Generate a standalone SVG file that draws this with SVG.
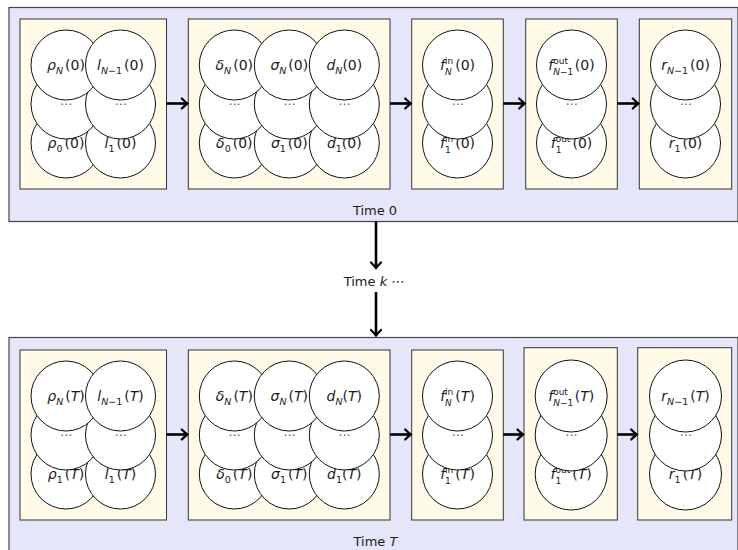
<svg xmlns="http://www.w3.org/2000/svg" width="738" height="550" viewBox="0 0 738 550">
<style>
.outer{fill:#e6e6fa;stroke:#444;stroke-width:1.2}
.inner{fill:#fffbe8;stroke:#333;stroke-width:1}
.c{fill:#fff;stroke:#111;stroke-width:1}
.lbl{font-family:"DejaVu Sans",sans-serif;font-size:14px;fill:#1a1a1a;text-anchor:middle}
.i{font-style:italic}
.s{font-size:9.5px}
.t{font-size:9px}
.dots{font-family:"DejaVu Sans",sans-serif;font-size:12px;fill:#555;text-anchor:middle}
.arr{stroke:#000;stroke-width:2.6;fill:none}
.cap{font-family:"DejaVu Sans",sans-serif;font-size:13px;fill:#1a1a1a;text-anchor:middle}
</style>
<defs>
<marker id="ah" markerUnits="userSpaceOnUse" markerWidth="14" markerHeight="14" viewBox="-8 -7 10 14" refX="0" refY="0" orient="auto">
<path d="M-5.5,-5 Q-2,-1.5 0,0 Q-2,1.5 -5.5,5" fill="none" stroke="#000" stroke-width="2.2" stroke-linecap="round"/>
</marker>
</defs>

<!-- ===== Time 0 ===== -->
<g id="time0">
<rect class="outer" x="9" y="7.5" width="729" height="214"/>
<text class="cap" x="375" y="214.5">Time 0</text>
</g>

<g id="box-rl-0">
<rect class="inner" x="20" y="19" width="146.5" height="170"/>
<g id="rho0-0"><circle class="c" cx="66" cy="143" r="35"/><text class="lbl" x="66" y="148"><tspan class="i">ρ</tspan><tspan class="s" dy="3.5">0</tspan><tspan dy="-3.5" dx="2">(0)</tspan></text></g>
<g id="l1-0"><circle class="c" cx="120.5" cy="143" r="35"/><text class="lbl" x="120.5" y="148"><tspan class="i">l</tspan><tspan class="s" dy="3.5">1</tspan><tspan dy="-3.5" dx="2">(0)</tspan></text></g>
<g id="rhok-0"><circle class="c" cx="66" cy="104" r="35"/><text class="dots" x="66" y="108">⋯</text></g>
<g id="lk-0"><circle class="c" cx="120.5" cy="104" r="35"/><text class="dots" x="120.5" y="108">⋯</text></g>
<g id="rhoN-0"><circle class="c" cx="66" cy="65" r="35"/><text class="lbl" x="66" y="70"><tspan class="i">ρ</tspan><tspan class="s i" dy="3.5">N</tspan><tspan dy="-3.5" dx="2">(0)</tspan></text></g>
<g id="lN-0"><circle class="c" cx="120.5" cy="65" r="35"/><text class="lbl" x="120.5" y="70"><tspan class="i">l</tspan><tspan class="s" dy="3.5"><tspan class="i">N</tspan>−1</tspan><tspan dy="-3.5" dx="2">(0)</tspan></text></g>
</g>

<g id="box-dsd-0">
<rect class="inner" x="188.3" y="19" width="201.7" height="170"/>
<g id="delta0-0"><circle class="c" cx="234.3" cy="143" r="35"/><text class="lbl" x="234.3" y="148"><tspan class="i">δ</tspan><tspan class="s" dy="3.5">0</tspan><tspan dy="-3.5" dx="2">(0)</tspan></text></g>
<g id="sigma1-0"><circle class="c" cx="289.3" cy="143" r="35"/><text class="lbl" x="289.3" y="148"><tspan class="i">σ</tspan><tspan class="s" dy="3.5">1</tspan><tspan dy="-3.5" dx="2">(0)</tspan></text></g>
<g id="d1-0"><circle class="c" cx="344.3" cy="143" r="35"/><text class="lbl" x="344.3" y="148"><tspan class="i">d</tspan><tspan class="s" dy="3.5">1</tspan><tspan dy="-3.5">(0)</tspan></text></g>
<g id="deltak-0"><circle class="c" cx="234.3" cy="104" r="35"/><text class="dots" x="234.3" y="108">⋯</text></g>
<g id="sigmak-0"><circle class="c" cx="289.3" cy="104" r="35"/><text class="dots" x="289.3" y="108">⋯</text></g>
<g id="dk-0"><circle class="c" cx="344.3" cy="104" r="35"/><text class="dots" x="344.3" y="108">⋯</text></g>
<g id="deltaN-0"><circle class="c" cx="234.3" cy="65" r="35"/><text class="lbl" x="234.3" y="70"><tspan class="i">δ</tspan><tspan class="s i" dy="3.5">N</tspan><tspan dy="-3.5" dx="2">(0)</tspan></text></g>
<g id="sigmaN-0"><circle class="c" cx="289.3" cy="65" r="35"/><text class="lbl" x="289.3" y="70"><tspan class="i">σ</tspan><tspan class="s i" dy="3.5">N</tspan><tspan dy="-3.5" dx="2">(0)</tspan></text></g>
<g id="dN-0"><circle class="c" cx="344.3" cy="65" r="35"/><text class="lbl" x="344.3" y="70"><tspan class="i">d</tspan><tspan class="s i" dy="3.5">N</tspan><tspan dy="-3.5">(0)</tspan></text></g>
</g>

<g id="box-fin-0">
<rect class="inner" x="411.7" y="19" width="91.6" height="170"/>
<g id="fin1-0"><circle class="c" cx="457.5" cy="143" r="35"/><text class="lbl" x="457.5" y="148"><tspan class="i">f</tspan><tspan class="t" dy="-6">in</tspan><tspan class="t" dx="-8.2" dy="10.5">1</tspan><tspan dy="-4.5" dx="4.5">(0)</tspan></text></g>
<g id="fink-0"><circle class="c" cx="457.5" cy="104" r="35"/><text class="dots" x="457.5" y="108">⋯</text></g>
<g id="finN-0"><circle class="c" cx="457.5" cy="65" r="35"/><text class="lbl" x="457.5" y="70"><tspan class="i">f</tspan><tspan class="t" dy="-6">in</tspan><tspan class="t i" dx="-8.2" dy="10.5">N</tspan><tspan dy="-4.5" dx="3.5">(0)</tspan></text></g>
</g>

<g id="box-fout-0">
<rect class="inner" x="525.7" y="19" width="91.6" height="170"/>
<g id="fout1-0"><circle class="c" cx="571.5" cy="143" r="35"/><text class="lbl" x="571.5" y="148"><tspan class="i">f</tspan><tspan class="t" dy="-6">out</tspan><tspan class="t" dx="-14.7" dy="10.5">1</tspan><tspan dy="-4.5" dx="11">(0)</tspan></text></g>
<g id="foutk-0"><circle class="c" cx="571.5" cy="104" r="35"/><text class="dots" x="571.5" y="108">⋯</text></g>
<g id="foutN-0"><circle class="c" cx="571.5" cy="65" r="35"/><text class="lbl" x="571.5" y="70"><tspan class="i">f</tspan><tspan class="t" dy="-6">out</tspan><tspan class="t" dx="-14.7" dy="10.5"><tspan class="i">N</tspan>−1</tspan><tspan dy="-4.5" dx="1.5">(0)</tspan></text></g>
</g>

<g id="box-r-0">
<rect class="inner" x="639.3" y="19" width="92.4" height="170"/>
<g id="r1-0"><circle class="c" cx="685.5" cy="143" r="35"/><text class="lbl" x="685.5" y="148"><tspan class="i">r</tspan><tspan class="s" dy="3.5">1</tspan><tspan dy="-3.5" dx="2">(0)</tspan></text></g>
<g id="rk-0"><circle class="c" cx="685.5" cy="104" r="35"/><text class="dots" x="685.5" y="108">⋯</text></g>
<g id="rN-0"><circle class="c" cx="685.5" cy="65" r="35"/><text class="lbl" x="685.5" y="70"><tspan class="i">r</tspan><tspan class="s" dy="3.5"><tspan class="i">N</tspan>−1</tspan><tspan dy="-3.5" dx="2">(0)</tspan></text></g>
</g>

<!-- ===== Time k ===== -->
<g id="timek">
<text class="cap" x="374" y="285.5">Time <tspan class="i">k</tspan> ⋯</text>
</g>

<!-- ===== Time T ===== -->
<g id="timeT">
<rect class="outer" x="9" y="337.5" width="729" height="214"/>
<text class="cap" x="375.5" y="545.5">Time <tspan class="i">T</tspan></text>
</g>

<g id="box-rl-T">
<rect class="inner" x="20" y="350" width="146.5" height="170"/>
<g id="rho1-T"><circle class="c" cx="66" cy="474" r="35"/><text class="lbl" x="66" y="479"><tspan class="i">ρ</tspan><tspan class="s" dy="3.5">1</tspan><tspan dy="-3.5" dx="2">(<tspan class="i">T</tspan>)</tspan></text></g>
<g id="l1-T"><circle class="c" cx="120.5" cy="474" r="35"/><text class="lbl" x="120.5" y="479"><tspan class="i">l</tspan><tspan class="s" dy="3.5">1</tspan><tspan dy="-3.5" dx="2">(<tspan class="i">T</tspan>)</tspan></text></g>
<g id="rhok-T"><circle class="c" cx="66" cy="435" r="35"/><text class="dots" x="66" y="439">⋯</text></g>
<g id="lk-T"><circle class="c" cx="120.5" cy="435" r="35"/><text class="dots" x="120.5" y="439">⋯</text></g>
<g id="rhoN-T"><circle class="c" cx="66" cy="396" r="35"/><text class="lbl" x="66" y="401"><tspan class="i">ρ</tspan><tspan class="s i" dy="3.5">N</tspan><tspan dy="-3.5" dx="2">(<tspan class="i">T</tspan>)</tspan></text></g>
<g id="lN-T"><circle class="c" cx="120.5" cy="396" r="35"/><text class="lbl" x="120.5" y="401"><tspan class="i">l</tspan><tspan class="s" dy="3.5"><tspan class="i">N</tspan>−1</tspan><tspan dy="-3.5" dx="2">(<tspan class="i">T</tspan>)</tspan></text></g>
</g>

<g id="box-dsd-T">
<rect class="inner" x="188.3" y="350" width="201.7" height="170"/>
<g id="delta0-T"><circle class="c" cx="234.3" cy="474" r="35"/><text class="lbl" x="234.3" y="479"><tspan class="i">δ</tspan><tspan class="s" dy="3.5">0</tspan><tspan dy="-3.5" dx="2">(<tspan class="i">T</tspan>)</tspan></text></g>
<g id="sigma1-T"><circle class="c" cx="289.3" cy="474" r="35"/><text class="lbl" x="289.3" y="479"><tspan class="i">σ</tspan><tspan class="s" dy="3.5">1</tspan><tspan dy="-3.5" dx="2">(<tspan class="i">T</tspan>)</tspan></text></g>
<g id="d1-T"><circle class="c" cx="344.3" cy="474" r="35"/><text class="lbl" x="344.3" y="479"><tspan class="i">d</tspan><tspan class="s" dy="3.5">1</tspan><tspan dy="-3.5">(<tspan class="i">T</tspan>)</tspan></text></g>
<g id="deltak-T"><circle class="c" cx="234.3" cy="435" r="35"/><text class="dots" x="234.3" y="439">⋯</text></g>
<g id="sigmak-T"><circle class="c" cx="289.3" cy="435" r="35"/><text class="dots" x="289.3" y="439">⋯</text></g>
<g id="dk-T"><circle class="c" cx="344.3" cy="435" r="35"/><text class="dots" x="344.3" y="439">⋯</text></g>
<g id="deltaN-T"><circle class="c" cx="234.3" cy="396" r="35"/><text class="lbl" x="234.3" y="401"><tspan class="i">δ</tspan><tspan class="s i" dy="3.5">N</tspan><tspan dy="-3.5" dx="2">(<tspan class="i">T</tspan>)</tspan></text></g>
<g id="sigmaN-T"><circle class="c" cx="289.3" cy="396" r="35"/><text class="lbl" x="289.3" y="401"><tspan class="i">σ</tspan><tspan class="s i" dy="3.5">N</tspan><tspan dy="-3.5" dx="2">(<tspan class="i">T</tspan>)</tspan></text></g>
<g id="dN-T"><circle class="c" cx="344.3" cy="396" r="35"/><text class="lbl" x="344.3" y="401"><tspan class="i">d</tspan><tspan class="s i" dy="3.5">N</tspan><tspan dy="-3.5">(<tspan class="i">T</tspan>)</tspan></text></g>
</g>

<g id="box-fin-T">
<rect class="inner" x="411.7" y="350" width="91.6" height="170"/>
<g id="fin1-T"><circle class="c" cx="457.5" cy="474" r="35"/><text class="lbl" x="457.5" y="479"><tspan class="i">f</tspan><tspan class="t" dy="-6">in</tspan><tspan class="t" dx="-8.2" dy="10.5">1</tspan><tspan dy="-4.5" dx="4.5">(<tspan class="i">T</tspan>)</tspan></text></g>
<g id="fink-T"><circle class="c" cx="457.5" cy="435" r="35"/><text class="dots" x="457.5" y="439">⋯</text></g>
<g id="finN-T"><circle class="c" cx="457.5" cy="396" r="35"/><text class="lbl" x="457.5" y="401"><tspan class="i">f</tspan><tspan class="t" dy="-6">in</tspan><tspan class="t i" dx="-8.2" dy="10.5">N</tspan><tspan dy="-4.5" dx="3.5">(<tspan class="i">T</tspan>)</tspan></text></g>
</g>

<g id="box-fout-T">
<rect class="inner" x="524" y="347.7" width="93.3" height="172.3"/>
<g id="fout1-T"><circle class="c" cx="571.2" cy="474" r="36"/><text class="lbl" x="571.2" y="479"><tspan class="i">f</tspan><tspan class="t" dy="-6">out</tspan><tspan class="t" dx="-14.7" dy="10.5">1</tspan><tspan dy="-4.5" dx="11">(<tspan class="i">T</tspan>)</tspan></text></g>
<g id="foutk-T"><circle class="c" cx="571.2" cy="435" r="36"/><text class="dots" x="571.2" y="439">⋯</text></g>
<g id="foutN-T"><circle class="c" cx="571.2" cy="396" r="36"/><text class="lbl" x="571.2" y="401"><tspan class="i">f</tspan><tspan class="t" dy="-6">out</tspan><tspan class="t" dx="-14.7" dy="10.5"><tspan class="i">N</tspan>−1</tspan><tspan dy="-4.5" dx="1.5">(<tspan class="i">T</tspan>)</tspan></text></g>
</g>

<g id="box-r-T">
<rect class="inner" x="637.7" y="347.7" width="94" height="172.3"/>
<g id="r1-T"><circle class="c" cx="685.5" cy="474" r="36"/><text class="lbl" x="685.5" y="479"><tspan class="i">r</tspan><tspan class="s" dy="3.5">1</tspan><tspan dy="-3.5" dx="2">(<tspan class="i">T</tspan>)</tspan></text></g>
<g id="rk-T"><circle class="c" cx="685.5" cy="435" r="36"/><text class="dots" x="685.5" y="439">⋯</text></g>
<g id="rN-T"><circle class="c" cx="685.5" cy="396" r="36"/><text class="lbl" x="685.5" y="401"><tspan class="i">r</tspan><tspan class="s" dy="3.5"><tspan class="i">N</tspan>−1</tspan><tspan dy="-3.5" dx="2">(<tspan class="i">T</tspan>)</tspan></text></g>
</g>

<!-- ===== connectors ===== -->
<g id="connectors">
<line class="arr" x1="166.5" y1="103.5" x2="187.3" y2="103.5" marker-end="url(#ah)"/>
<line class="arr" x1="390" y1="103.5" x2="410.7" y2="103.5" marker-end="url(#ah)"/>
<line class="arr" x1="503.3" y1="103.5" x2="524.7" y2="103.5" marker-end="url(#ah)"/>
<line class="arr" x1="617.3" y1="103.5" x2="638.3" y2="103.5" marker-end="url(#ah)"/>
<line class="arr" x1="376" y1="221.5" x2="376" y2="268" marker-end="url(#ah)"/>
<line class="arr" x1="376" y1="292" x2="376" y2="335.5" marker-end="url(#ah)"/>
<line class="arr" x1="166.5" y1="434.5" x2="187.3" y2="434.5" marker-end="url(#ah)"/>
<line class="arr" x1="390" y1="434.5" x2="410.7" y2="434.5" marker-end="url(#ah)"/>
<line class="arr" x1="503.3" y1="434.5" x2="523" y2="434.5" marker-end="url(#ah)"/>
<line class="arr" x1="617.3" y1="434.5" x2="636.7" y2="434.5" marker-end="url(#ah)"/>
</g>
</svg>
